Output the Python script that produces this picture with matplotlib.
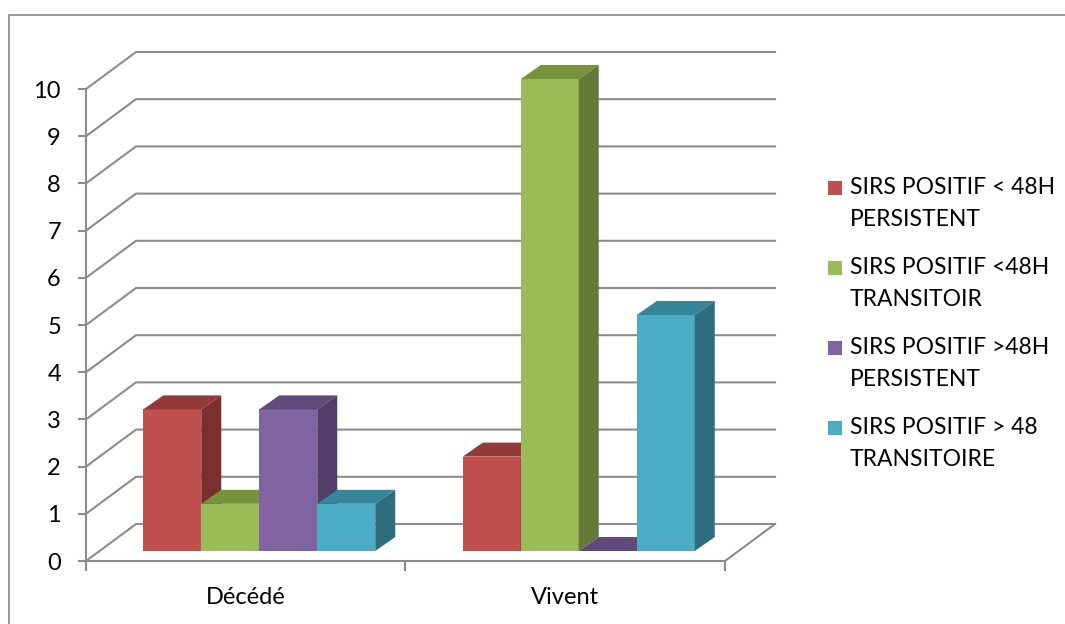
import matplotlib.pyplot as plt
from matplotlib.lines import Line2D
from matplotlib.patches import Polygon, Rectangle

plt.rcParams["font.family"] = ["Lato", "DejaVu Sans"]

categories = ["Décédé", "Vivent"]
series_labels = [
    "SIRS POSITIF < 48H\nPERSISTENT",
    "SIRS POSITIF <48H\nTRANSITOIR",
    "SIRS POSITIF >48H\nPERSISTENT",
    "SIRS POSITIF > 48\nTRANSITOIRE",
]
persist_lt48 = [3, 2]
transit_lt48 = [1, 10]
persist_gt48 = [3, 0]
transit_gt48 = [1, 5]
series_values = [persist_lt48, transit_lt48, persist_gt48, transit_gt48]
y_ticks = list(range(0, 11))

front_colors = ["#C0504D", "#9BBB59", "#8064A2", "#4BACC6"]
top_colors = ["#923A38", "#76923C", "#604A7B", "#35859A"]
side_colors = ["#7A2F2D", "#657A39", "#523F69", "#2E6D7F"]
grid_color = "#8C8C8C"

W, H = 1065, 624
fig = plt.figure(figsize=(W / 100, H / 100), dpi=100)
# front plane of the 3d box: x 86..725 px, y 561..89 px
ax = fig.add_axes([86 / W, 1 - 561 / H, 639 / W, 472 / H])
ax.set_xlim(0, len(categories))
ax.set_ylim(0, 10)

px_x = 639 / len(categories)
px_y = 472 / 10
DX, DY = 50 / px_x, 37 / px_y          # wall depth
bdx, bdy = 20 / px_x, 14 / px_y        # bar depth
f0 = 0.27                              # bars start this far into the floor
bw = 58 / px_x

# back wall gridlines with their diagonals
for v in y_ticks:
    ax.plot([0, DX, len(categories) + DX], [v, v + DY, v + DY],
            color=grid_color, lw=1.5, clip_on=False, zorder=1,
            solid_joinstyle="miter")
ax.plot([len(categories), len(categories) + DX], [0, DY],
        color=grid_color, lw=1.5, clip_on=False, zorder=1)

# bars
z = 2
sx, sy = f0 * DX, f0 * DY
for ci in range(len(categories)):
    for si, vals in enumerate(series_values):
        v = vals[ci]
        x0 = ci + 0.5 - 2 * bw + si * bw + sx
        ax.bar(x0, v, width=bw, bottom=sy, align="edge",
               color=front_colors[si], lw=0, zorder=z, clip_on=False)
        top = [(x0, sy + v), (x0 + bw, sy + v),
               (x0 + bw + bdx, sy + v + bdy), (x0 + bdx, sy + v + bdy)]
        ax.add_patch(Polygon(top, closed=True, facecolor=top_colors[si],
                             lw=0, zorder=z, clip_on=False))
        if v > 0:
            side = [(x0 + bw, sy), (x0 + bw, sy + v),
                    (x0 + bw + bdx, sy + v + bdy), (x0 + bw + bdx, sy + bdy)]
            ax.add_patch(Polygon(side, closed=True, facecolor=side_colors[si],
                                 lw=0, zorder=z, clip_on=False))
        z += 1

for s in ["top", "right"]:
    ax.spines[s].set_visible(False)
for s in ["left", "bottom"]:
    ax.spines[s].set_color(grid_color)
    ax.spines[s].set_linewidth(1.5)
    ax.spines[s].set_zorder(0.5)

ax.set_yticks(y_ticks)
ax.set_yticklabels([str(t) for t in y_ticks], fontsize=17)
ax.tick_params(axis="y", length=6, width=1.5, color=grid_color, pad=12)
ax.set_xticks(range(len(categories) + 1))
ax.set_xticklabels([])
ax.tick_params(axis="x", which="major", length=7, width=1.5, color=grid_color)
ax.set_xticks([i + 0.5 for i in range(len(categories))], minor=True)
ax.set_xticklabels(categories, minor=True, fontsize=17)
ax.tick_params(axis="x", which="minor", length=0, pad=19)
ax.patch.set_visible(False)

# outer chart border
fig.add_artist(Line2D([9 / W, 9 / W, 1.0], [0.0, 1 - 15 / H, 1 - 15 / H],
                      transform=fig.transFigure, color="#868686", lw=1.2))

# legend
for si, lab in enumerate(series_labels):
    yc = 188 + 80 * si
    fig.add_artist(Rectangle((828 / W, 1 - (yc + 7) / H), 14 / W, 14 / H,
                             transform=fig.transFigure,
                             facecolor=front_colors[si], lw=0))
    for li, line in enumerate(lab.split("\n")):
        fig.text(850 / W, 1 - (yc + 31 * li) / H, line, fontsize=16.5,
                 va="center", ha="left")

fig.savefig("out.png", dpi=100)
